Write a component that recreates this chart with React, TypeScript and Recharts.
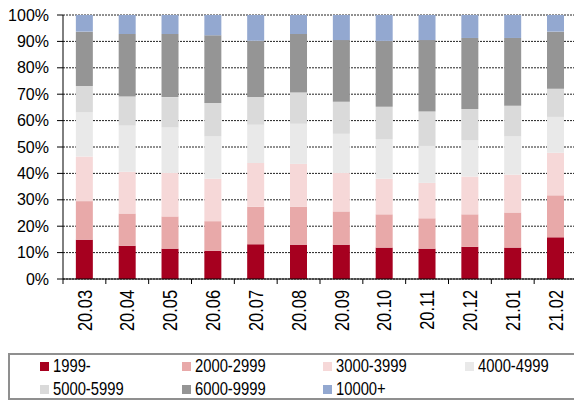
import React from 'react';
import { BarChart, Bar, XAxis, YAxis, CartesianGrid, Legend } from 'recharts';

// Monthly categories and price-band shares (percent of total, each month sums to 100)
const months = ['20.03', '20.04', '20.05', '20.06', '20.07', '20.08', '20.09', '20.10', '20.11', '20.12', '21.01', '21.02'];

const band1999 = [14.9, 12.6, 11.5, 10.7, 13.2, 13.0, 13.0, 11.9, 11.5, 12.2, 11.9, 15.8];
const band2000 = [14.6, 12.2, 12.2, 11.2, 14.2, 14.4, 12.6, 12.6, 11.5, 12.3, 13.3, 15.9];
const band3000 = [16.9, 15.8, 16.5, 16.1, 16.5, 16.2, 14.6, 13.5, 13.4, 14.3, 14.3, 16.1];
const band4000 = [16.7, 17.5, 17.2, 16.0, 14.5, 15.2, 14.8, 15.0, 14.0, 13.7, 14.5, 13.6];
const band5000 = [10.0, 11.0, 11.5, 12.7, 10.5, 11.8, 12.1, 12.2, 13.0, 11.9, 11.6, 10.7];
const band6000 = [20.6, 23.7, 23.9, 25.6, 21.3, 22.2, 23.4, 25.0, 27.1, 26.9, 25.7, 21.6];
const band10000 = [6.3, 7.2, 7.2, 7.7, 9.8, 7.2, 9.5, 9.8, 9.5, 8.7, 8.7, 6.3];

const yTicks = [0, 10, 20, 30, 40, 50, 60, 70, 80, 90, 100];

const series = [
  { key: 'b1', name: '1999-', values: band1999, color: '#A6001F' },
  { key: 'b2', name: '2000-2999', values: band2000, color: '#E8A9A9' },
  { key: 'b3', name: '3000-3999', values: band3000, color: '#F6D8D8' },
  { key: 'b4', name: '4000-4999', values: band4000, color: '#E9E9E9' },
  { key: 'b5', name: '5000-5999', values: band5000, color: '#DADADA' },
  { key: 'b6', name: '6000-9999', values: band6000, color: '#959595' },
  { key: 'b7', name: '10000+', values: band10000, color: '#93A8D0' },
];

const data = months.map((m, i) => {
  const row: Record<string, string | number> = { month: m };
  series.forEach((s) => {
    row[s.key] = s.values[i];
  });
  return row;
});

const CHART_W = 600;
const CHART_H = 401;
const MARGIN = { top: 15, right: 23, bottom: 25, left: 0 };
const Y_AXIS_W = 63;
const X_AXIS_H = 50;
const LEGEND_H = 47;
const PLOT_W = CHART_W - MARGIN.left - MARGIN.right - Y_AXIS_W;
const BAND = PLOT_W / months.length;

const fontFamily = "'Liberation Sans', Arial, sans-serif";
// condensed look for month labels and legend entries
const NARROW = 0.82;

// Rotated month label plus a boundary tick on the left edge of each category
const MonthTick = (props: any) => {
  const { x, y, payload } = props;
  const axisY = y - 8;
  const left = x - BAND / 2;
  return (
    <g>
      <line x1={left} y1={axisY} x2={left} y2={axisY + 5} stroke="#000" strokeWidth={1} />
      <text
        transform={`translate(${x}, ${axisY + 11}) rotate(-90) scale(${NARROW}, 1)`}
        textAnchor="end"
        dy="0.36em"
        fontFamily={fontFamily}
        fontSize={20}
        fill="#000"
      >
        {payload.value}
      </text>
    </g>
  );
};

const LegendBox = () => {
  const rows = [series.slice(0, 4), series.slice(4)];
  return (
    <div
      style={{
        boxSizing: 'border-box',
        width: 580,
        height: LEGEND_H,
        border: '2px solid #8f8f8f',
        background: '#fff',
        position: 'relative',
        fontFamily,
        fontSize: 18,
        color: '#000',
      }}
    >
      {rows.map((row, r) =>
        row.map((s, c) => (
          <div
            key={s.key}
            style={{
              position: 'absolute',
              left: 30 + c * 141.7,
              top: r === 0 ? 0 : 23,
              height: 22,
              display: 'flex',
              alignItems: 'center',
              whiteSpace: 'nowrap',
              lineHeight: '22px',
            }}
          >
            <span style={{ display: 'inline-block', width: 9, height: 9, background: s.color, marginRight: 4 }} />
            <span style={{ display: 'inline-block', transform: `scaleX(${NARROW})`, transformOrigin: 'left center' }}>
              {s.name}
            </span>
          </div>
        ))
      )}
    </div>
  );
};

export default function App() {
  return (
    <div style={{ position: 'fixed', left: 0, top: 0, width: 574, height: 401, overflow: 'hidden', background: '#fff' }}>
      <BarChart
        width={CHART_W}
        height={CHART_H}
        data={data}
        margin={MARGIN}
        barCategoryGap="30%"
      >
        <CartesianGrid vertical={false} stroke="#222" strokeDasharray="2 1" />
        <XAxis
          dataKey="month"
          interval={0}
          height={X_AXIS_H}
          tickLine={false}
          axisLine={{ stroke: '#000', strokeWidth: 1 }}
          tick={<MonthTick />}
        />
        <YAxis
          width={Y_AXIS_W}
          domain={[0, 100]}
          ticks={yTicks}
          interval={0}
          tickFormatter={(v: number) => `${v}%`}
          tickSize={6}
          tickMargin={8}
          tickLine={{ stroke: '#000' }}
          axisLine={{ stroke: '#000', strokeWidth: 1 }}
          tick={{ fill: '#000', fontSize: 16, fontFamily }}
          allowDataOverflow
        />
        <Legend
          verticalAlign="bottom"
          content={<LegendBox />}
          wrapperStyle={{ left: 8, top: 353, width: 580, height: LEGEND_H }}
        />
        {series.map((s) => (
          <Bar key={s.key} dataKey={s.key} name={s.name} stackId="share" fill={s.color} isAnimationActive={false} />
        ))}
      </BarChart>
    </div>
  );
}
